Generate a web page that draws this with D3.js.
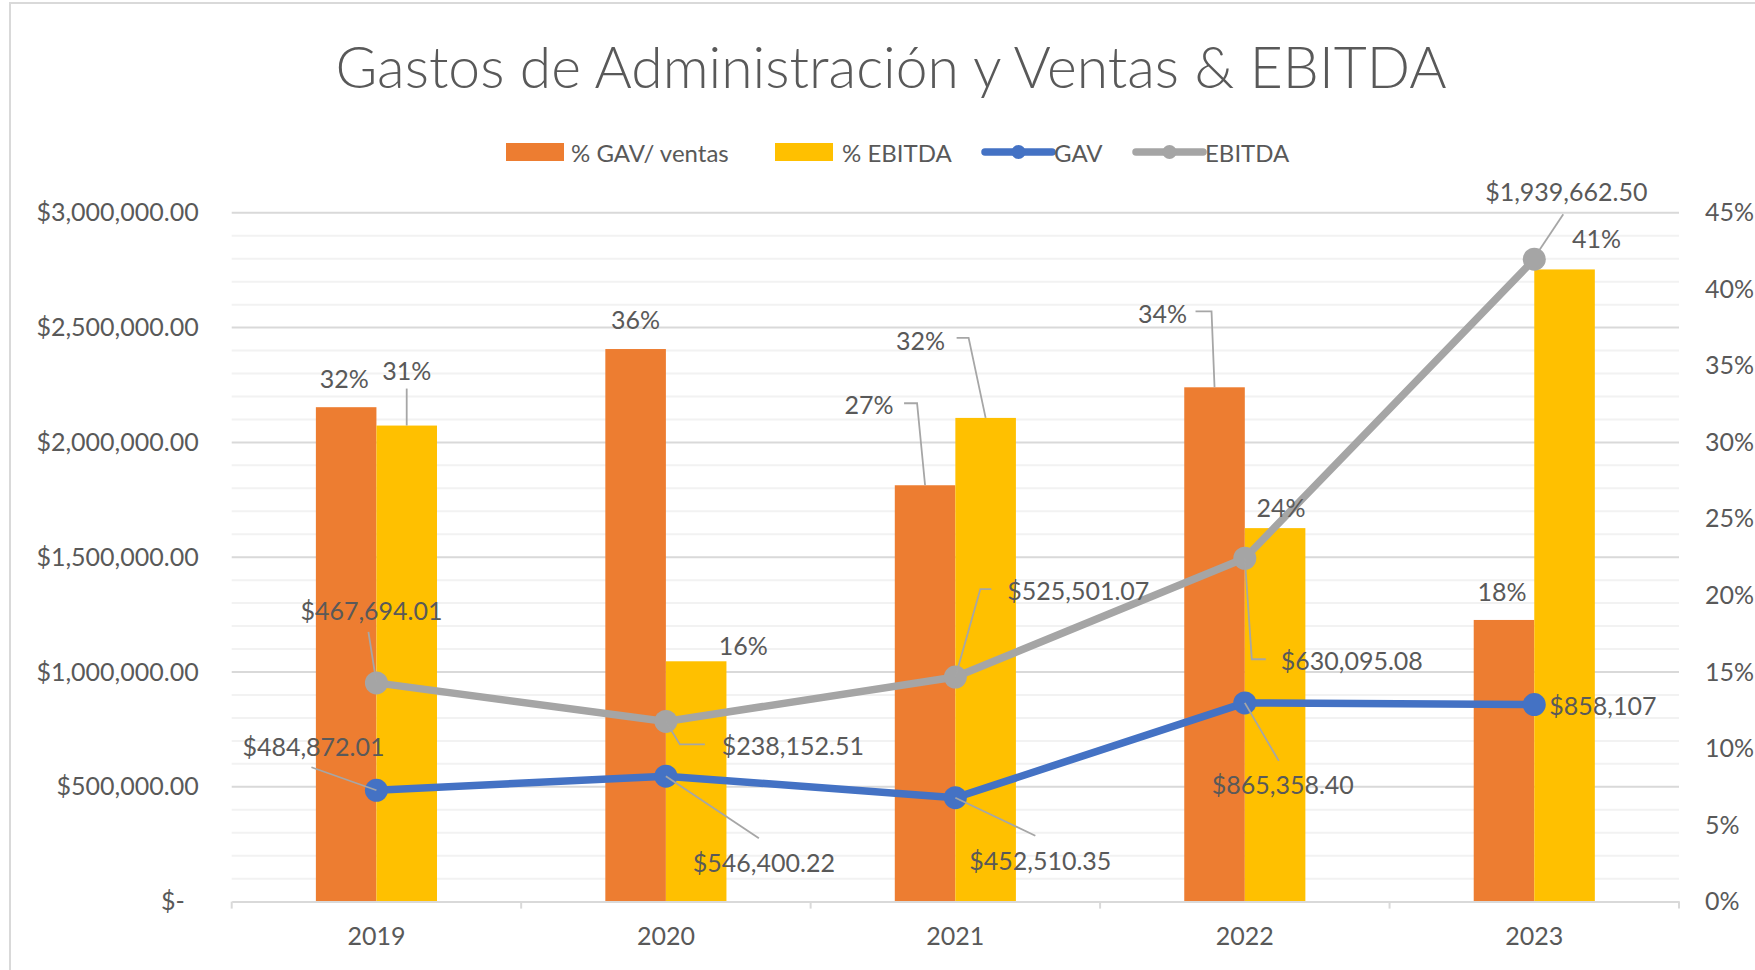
<!DOCTYPE html>
<html><head><meta charset="utf-8">
<script src="https://cdn.jsdelivr.net/npm/d3@7"></script>
<style>
body{margin:0;background:#fff;}
svg{display:block;font-family:Lato,'Open Sans',sans-serif;}
</style>
</head><body>
<svg id="c" width="1755" height="970"></svg>
<script>
// ---- data ----
const years = ["2019","2020","2021","2022","2023"];
const gavPct = [0.323, 0.361, 0.272, 0.336, 0.184];
const ebitdaPct = [0.311, 0.157, 0.316, 0.244, 0.413];
const gavPctLabels = ["32%","36%","27%","34%","18%"];
const ebitdaPctLabels = ["31%","16%","32%","24%","41%"];
const gav = [484872.01, 546400.22, 452510.35, 865358.40, 858107];
const ebitda = [467694.01, 238152.51, 525501.07, 630095.08, 1939662.50];
const gavLabels = ["$484,872.01","$546,400.22","$452,510.35","$865,358.40","$858,107"];
const ebitdaLabels = ["$467,694.01","$238,152.51","$525,501.07","$630,095.08","$1,939,662.50"];
const leftTicks = [0,500000,1000000,1500000,2000000,2500000,3000000];
const leftTickLabels = ["$-","$500,000.00","$1,000,000.00","$1,500,000.00","$2,000,000.00","$2,500,000.00","$3,000,000.00"];
const rightTicks = [0,0.05,0.10,0.15,0.20,0.25,0.30,0.35,0.40,0.45];
const rightTickLabels = ["0%","5%","10%","15%","20%","25%","30%","35%","40%","45%"];
const seriesNames = ["% GAV/ ventas","% EBITDA","GAV","EBITDA"];
const titleText = "Gastos de Administración y Ventas & EBITDA";

// ---- label layout (offsets from the mark, in px) ----
const gavPctLab = [
  {dx:-2,dy:-29,leader:null},
  {dx:0,dy:-30,leader:null},
  {dx:-56,dy:-81,leader:[[-21,-82],[-8,-82],[0,0]]},
  {dx:-52,dy:-74,leader:[[-19,-76],[-3,-76],[0,0]]},
  {dx:-2,dy:-29,leader:null}];
const ebitdaPctLab = [
  {dx:0,dy:-56,leader:[[0,-37],[0,0]]},
  {dx:47,dy:-16,leader:null},
  {dx:-65,dy:-78,leader:[[-29,-80],[-17,-80],[0,0]]},
  {dx:6,dy:-21,leader:null},
  {dx:32,dy:-31,leader:null}];
const gavLab = [
  {dx:-63,dy:-44,anchor:"middle",leader:[[-65,-23],[0,0]]},
  {dx:98,dy:86,anchor:"middle",leader:[[0,0],[93,62]]},
  {dx:85,dy:62,anchor:"middle",leader:[[0,0],[80,38]]},
  {dx:38,dy:81,anchor:"middle",leader:[[0,0],[34,58]]},
  {dx:15,dy:0,anchor:"start",leader:null}];
const ebitdaLab = [
  {dx:-5,dy:-73,anchor:"middle",leader:[[-8,-51],[0,0]]},
  {dx:127,dy:24,anchor:"middle",leader:[[0,0],[14,23],[39,23]]},
  {dx:123,dy:-87,anchor:"middle",leader:[[0,0],[25,-88],[36,-88]]},
  {dx:107,dy:102,anchor:"middle",leader:[[0,0],[7,101],[21,101]]},
  {dx:32,dy:-68,anchor:"middle",leader:[[5,-9],[29,-45]]}];

const C = {orange:"#ED7D31", yellow:"#FFC000", blue:"#4472C4", gray:"#A5A5A5",
  text:"#595959", major:"#D9D9D9", minor:"#F2F2F2", leader:"#A6A6A6"};

const svg = d3.select("#c");
const W=1755,H=970;
svg.append("rect").attr("x",0).attr("y",0).attr("width",W).attr("height",H).attr("fill","#fff");
svg.append("rect").attr("x",10).attr("y",3).attr("width",W+20).attr("height",H+20)
  .attr("fill","none").attr("stroke","#D9D9D9").attr("stroke-width",2);

const L=231.7, R=1679, T=212.8, B=901.6;
const x = d3.scaleBand().domain(years).range([L,R]).padding(0);
const xs = d3.scaleBand().domain(["gav","ebitda"]).range([0,x.bandwidth()]).paddingInner(0).paddingOuter(1.39);
const yL = d3.scaleLinear().domain([0,3000000]).range([B,T]);
const yR = d3.scaleLinear().domain([0,0.45]).range([B,T]);

// title
svg.append("text").attr("x",891).attr("y",88).attr("text-anchor","middle")
  .attr("font-size",57).attr("font-weight",300).attr("fill",C.text).text(titleText);

// gridlines
const minorTicks = d3.range(0,3000001,100000).filter(v=>v%500000!==0);
svg.append("g").selectAll("line").data(minorTicks).join("line")
  .attr("x1",L).attr("x2",R).attr("y1",d=>yL(d)).attr("y2",d=>yL(d))
  .attr("stroke",C.minor).attr("stroke-width",2);
svg.append("g").selectAll("line").data(leftTicks.filter(d=>d>0)).join("line")
  .attr("x1",L).attr("x2",R).attr("y1",d=>yL(d)).attr("y2",d=>yL(d))
  .attr("stroke",C.major).attr("stroke-width",2);

// bars
const barData = years.map((yr,i)=>({yr,i,gav:gavPct[i],ebitda:ebitdaPct[i]}));
const gBars = svg.append("g");
["gav","ebitda"].forEach(k=>{
  gBars.selectAll("rect."+k).data(barData).join("rect").attr("class",k)
    .attr("x",d=>x(d.yr)+xs(k)).attr("width",xs.bandwidth())
    .attr("y",d=>yR(d[k])).attr("height",d=>B-yR(d[k]))
    .attr("fill",k==="gav"?C.orange:C.yellow);
});

// category axis
const gx = svg.append("g").attr("transform",`translate(0,${B})`)
  .call(d3.axisBottom(x).tickSize(0).tickPadding(26));
gx.select(".domain").attr("stroke",C.major).attr("stroke-width",2);
gx.selectAll("text").attr("font-size",25).attr("fill",C.text).attr("font-family","Lato,'Open Sans',sans-serif");
const bounds = years.map(y=>x(y)).concat([R]);
svg.append("g").selectAll("line").data(bounds).join("line")
  .attr("x1",d=>d).attr("x2",d=>d).attr("y1",B).attr("y2",B+7)
  .attr("stroke",C.major).attr("stroke-width",2);

// left axis
const gl = svg.append("g").attr("transform",`translate(${L},0)`)
  .call(d3.axisLeft(yL).tickValues(leftTicks).tickFormat((d,i)=>leftTickLabels[i]).tickSize(0).tickPadding(33));
gl.select(".domain").remove();
gl.selectAll("text").attr("font-size",25).attr("fill",C.text).attr("font-family","Lato,'Open Sans',sans-serif")
  .attr("dx",(d)=>d===0?-14:0);
// right axis
const gr = svg.append("g").attr("transform",`translate(${R},0)`)
  .call(d3.axisRight(yR).tickValues(rightTicks).tickFormat((d,i)=>rightTickLabels[i]).tickSize(0).tickPadding(26));
gr.select(".domain").remove();
gr.selectAll("text").attr("font-size",25).attr("fill",C.text).attr("font-family","Lato,'Open Sans',sans-serif");

// stacked lines
const table = years.map((yr,i)=>({yr,gav:gav[i],ebitda:ebitda[i]}));
const stack = d3.stack().keys(["gav","ebitda"])(table);
const cx = yr=>x(yr)+x.bandwidth()/2;
const lineGen = d3.line().x(d=>cx(d.data.yr)).y(d=>yL(d[1]));
const lineColors = [C.blue,C.gray];
stack.forEach((s,si)=>{
  svg.append("path").datum(s).attr("d",lineGen).attr("fill","none")
    .attr("stroke",lineColors[si]).attr("stroke-width",7.5).attr("stroke-linejoin","round");
});
stack.forEach((s,si)=>{
  svg.append("g").selectAll("circle").data(s).join("circle")
    .attr("cx",d=>cx(d.data.yr)).attr("cy",d=>yL(d[1])).attr("r",11.5)
    .attr("fill",lineColors[si]);
});

// labels
const gLab = svg.append("g");
const lineP = d3.line();
function drawLabel(px,py,txt,lay,anchor){
  if(lay.leader){
    gLab.append("path").attr("d",lineP(lay.leader.map(p=>[px+p[0],py+p[1]])))
      .attr("fill","none").attr("stroke",C.leader).attr("stroke-width",1.8);
  }
  gLab.append("text").attr("x",px+lay.dx).attr("y",py+lay.dy)
    .attr("text-anchor",anchor||"middle").attr("dominant-baseline","central")
    .attr("font-size",25).attr("fill",C.text).text(txt);
}
barData.forEach((d,i)=>{
  drawLabel(x(d.yr)+xs("gav")+xs.bandwidth()/2, yR(d.gav), gavPctLabels[i], gavPctLab[i]);
  drawLabel(x(d.yr)+xs("ebitda")+xs.bandwidth()/2, yR(d.ebitda), ebitdaPctLabels[i], ebitdaPctLab[i]);
});
stack[0].forEach((d,i)=>drawLabel(cx(d.data.yr),yL(d[1]),gavLabels[i],gavLab[i],gavLab[i].anchor));
stack[1].forEach((d,i)=>drawLabel(cx(d.data.yr),yL(d[1]),ebitdaLabels[i],ebitdaLab[i],ebitdaLab[i].anchor));

// legend
const lg = svg.append("g");
const ly = 152;
const legendItems = [
  {name:seriesNames[0],type:"bar",color:C.orange,kx:506,tx:571},
  {name:seriesNames[1],type:"bar",color:C.yellow,kx:775,tx:842},
  {name:seriesNames[2],type:"line",color:C.blue,kx:985,tx:1054},
  {name:seriesNames[3],type:"line",color:C.gray,kx:1136,tx:1205}];
legendItems.forEach(it=>{
  if(it.type==="bar"){
    lg.append("rect").attr("x",it.kx).attr("y",ly-9).attr("width",58).attr("height",18).attr("fill",it.color);
  } else {
    lg.append("line").attr("x1",it.kx).attr("x2",it.kx+67).attr("y1",ly).attr("y2",ly)
      .attr("stroke",it.color).attr("stroke-width",7.5).attr("stroke-linecap","round");
    lg.append("circle").attr("cx",it.kx+33.5).attr("cy",ly).attr("r",7).attr("fill",it.color);
  }
  lg.append("text").attr("x",it.tx).attr("y",ly).attr("dominant-baseline","central")
    .attr("font-size",24).attr("fill",C.text).text(it.name);
});
</script>
</body></html>
